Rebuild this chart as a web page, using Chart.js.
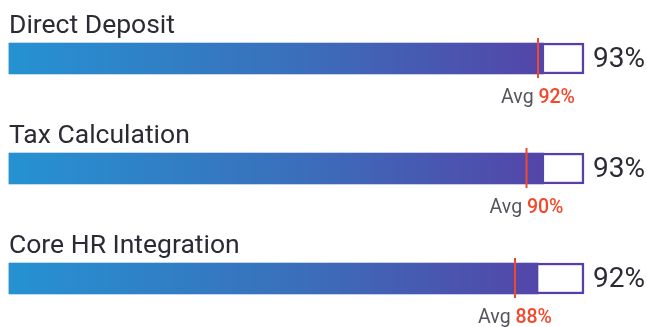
<!DOCTYPE html>
<html>
<head>
<meta charset="utf-8">
<script src="https://cdn.jsdelivr.net/npm/chart.js@4"></script>
<style>
  html, body { margin: 0; padding: 0; background: #fff; }
  #wrap { width: 647px; height: 327px; position: relative; }
</style>
</head>
<body>
<div id="wrap"><canvas id="scoreChart"></canvas></div>
<script>
const categories = ["Direct Deposit", "Tax Calculation", "Core HR Integration"];
const scores = [93, 93, 92];
const averages = [92, 90, 88];
const trackMax = [100, 100, 100];

const FONT = "Roboto, 'Noto Sans', sans-serif";
const textDark = "#2b2b36";
const avgRed = "#f2492c";
const purple = "#5a3ea8";

// titles, value labels and average markers
const labelPlugin = {
  id: "labels",
  afterDatasetsDraw(chart) {
    const ctx = chart.ctx;
    const xs = chart.scales.x;
    const ys = chart.scales.y;
    const area = chart.chartArea;
    const half = 15.5;

    categories.forEach((name, i) => {
      const cy = ys.getPixelForValue(i);

      ctx.save();
      ctx.fillStyle = textDark;
      ctx.font = "400 26.5px " + FONT;
      ctx.textAlign = "left";
      ctx.textBaseline = "alphabetic";
      ctx.fillText(name, area.left, cy - half - 10);

      ctx.font = "400 28px " + FONT;
      ctx.textBaseline = "middle";
      ctx.fillText(scores[i] + "%", area.right + 9, cy + 1);

      // avg marker
      const ax = xs.getPixelForValue(averages[i]);
      ctx.strokeStyle = avgRed;
      ctx.lineWidth = 2;
      ctx.beginPath();
      ctx.moveTo(ax, cy - half - 5);
      ctx.lineTo(ax, cy + half + 4);
      ctx.stroke();

      const pre = "Avg ";
      const val = averages[i] + "%";
      ctx.font = "400 19.5px " + FONT;
      const w1 = ctx.measureText(pre).width;
      ctx.font = "500 19.5px " + FONT;
      const w2 = ctx.measureText(val).width;
      let x0 = ax - (w1 + w2) / 2;
      const by = cy + half + 29;
      ctx.textAlign = "left";
      ctx.textBaseline = "alphabetic";
      ctx.font = "400 19.5px " + FONT;
      ctx.fillStyle = "#55555e";
      ctx.fillText(pre, x0, by);
      ctx.font = "500 19.5px " + FONT;
      ctx.fillStyle = avgRed;
      ctx.fillText(val, x0 + w1, by);
      ctx.restore();
    });
  }
};

function barGradient(context) {
  const chart = context.chart;
  const area = chart.chartArea;
  if (!area) return "#2592d2";
  const g = chart.ctx.createLinearGradient(area.left, 0, area.right, 0);
  g.addColorStop(0, "#2592d2");
  g.addColorStop(0.5, "#3a6fbb");
  g.addColorStop(1, "#583ea6");
  return g;
}

new Chart(document.getElementById("scoreChart"), {
  type: "bar",
  data: {
    labels: categories,
    datasets: [
      {
        label: "Score",
        data: scores,
        backgroundColor: barGradient,
        borderWidth: 0,
        barThickness: 31,
        grouped: false,
        clip: false,
        order: 0,
      },
      {
        label: "Track",
        data: trackMax,
        backgroundColor: "#ffffff",
        borderColor: purple,
        borderWidth: 2.5,
        borderSkipped: false,
        barThickness: 31,
        grouped: false,
        clip: false,
        order: 1,
      },
    ],
  },
  options: {
    indexAxis: "y",
    responsive: true,
    maintainAspectRatio: false,
    animation: false,
    layout: { padding: { left: 9, right: 63, top: 58.5, bottom: 48.5 } },
    scales: {
      x: { min: 0, max: 100, display: false, grid: { display: false } },
      y: { type: "category", offset: false, display: false, grid: { display: false } },
    },
    plugins: {
      legend: { display: false },
      tooltip: { enabled: false },
    },
  },
  plugins: [labelPlugin],
});
</script>
</body>
</html>
